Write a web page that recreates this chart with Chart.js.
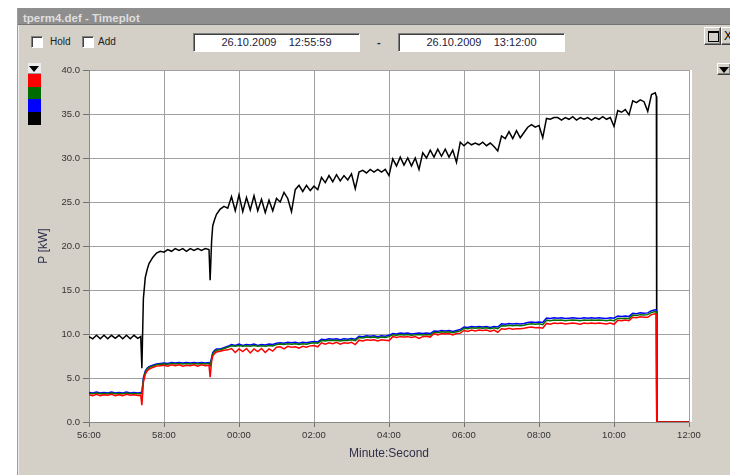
<!DOCTYPE html>
<html>
<head>
<meta charset="utf-8">
<title>tperm4.def - Timeplot</title>
<script src="https://cdn.jsdelivr.net/npm/chart.js@4/dist/chart.umd.min.js"></script>
<style>
  html, body { margin: 0; padding: 0; background: #fff; }
  body { width: 730px; height: 475px; position: relative; overflow: hidden;
         font-family: "Liberation Sans", Arial, sans-serif; }
  .abs { position: absolute; }
  #win { left: 17px; top: 8px; width: 713px; height: 467px; background: #d4d0c8;
         border-left: 1px solid #9c9c9c; box-shadow: inset 1px 0 0 #ececec; box-sizing: border-box; }
  #titlebar { left: 18px; top: 8px; width: 712px; height: 17px; background: #8e8e8e;
              border-bottom: 1px solid #747474; box-sizing: border-box; }
  #titletext { left: 23px; top: 13px; font: bold 11.5px/1 "Liberation Sans", Arial, sans-serif;
               color: #dedede; white-space: pre; }
  .chk { width: 12px; height: 12px; background: #fff; box-sizing: border-box;
         border: 1px solid; border-color: #808080 #ffffff #ffffff #808080;
         box-shadow: inset 1px 1px 0 #404040; }
  .lbl { font: 10px/1 "Liberation Sans", Arial, sans-serif; color: #202020; white-space: pre; }
  .datebox { top: 33px; height: 19px; background: #fff; box-sizing: border-box;
             border: 1px solid; border-color: #808080 #ffffff #ffffff #808080;
             box-shadow: inset 1px 1px 0 #404040; }
  .datetext { left: 0; right: 0; top: 3px; text-align: center;
              font: 11px/1 "Liberation Sans", Arial, sans-serif; color: #1e2240; white-space: pre; }
  .btn { background: #d4d0c8; box-sizing: border-box; border: 1px solid;
         border-color: #ffffff #404040 #404040 #ffffff; box-shadow: inset -1px -1px 0 #808080; }
  .tri { width: 0; height: 0; border-left: 5px solid transparent; border-right: 5px solid transparent;
         border-top: 6px solid #000; }
  .swatch { left: 28px; width: 13px; }
  #chart { position: absolute; left: 0; top: 0; }
</style>
</head>
<body>
<div id="win" class="abs"></div>
<div id="titlebar" class="abs"></div>
<div id="titletext" class="abs">tperm4.def - Timeplot</div>

<!-- toolbar row -->
<div class="abs chk" style="left:31px; top:36px;"></div>
<div class="abs lbl" style="left:50px; top:36.5px;">Hold</div>
<div class="abs chk" style="left:82px; top:36px;"></div>
<div class="abs lbl" style="left:98px; top:36.5px;">Add</div>

<div class="abs datebox" style="left:193px; width:167px;"><div class="abs datetext">26.10.2009    12:55:59</div></div>
<div class="abs" style="left:377px; top:36.5px; font:bold 11px/1 'Liberation Sans', Arial, sans-serif; color:#202020;">-</div>
<div class="abs datebox" style="left:398px; width:167px;"><div class="abs datetext">26.10.2009    13:12:00</div></div>

<!-- window buttons -->
<div class="abs btn" style="left:704px; top:27px; width:17px; height:18px;">
  <div class="abs" style="left:3px; top:3px; width:9px; height:8px; border:1px solid #000; border-top-width:2px;"></div>
</div>
<div class="abs btn" style="left:721px; top:27px; width:17px; height:18px;">
  <div class="abs" style="left:2px; top:2px; font:12px/1 'Liberation Sans', Arial, sans-serif; color:#000;">X</div>
</div>
<div class="abs btn" style="left:717px; top:63px; width:14px; height:12px;">
  <div class="abs tri" style="left:1px; top:3px;"></div>
</div>

<!-- series colour keys -->
<div class="abs" style="left:28px; top:63px; width:13px; height:11px; background:#ececec; border-bottom:1px solid #9a9a9a; box-sizing:border-box;">
  <div class="abs tri" style="left:1px; top:3px;"></div>
</div>
<div class="abs swatch" style="top:74px; height:13px; background:#ff0000;"></div>
<div class="abs swatch" style="top:87px; height:12px; background:#006c00;"></div>
<div class="abs swatch" style="top:99px; height:13px; background:#0000ff;"></div>
<div class="abs swatch" style="top:112px; height:13px; background:#000000;"></div>

<canvas id="chart" width="730" height="475"></canvas>

<script>
// Sample times in minutes after 12:56:00
const minutes = [
  0.0, 0.1, 0.2, 0.3, 0.4, 0.5, 0.6, 0.7, 0.8, 0.9, 1.0, 1.1, 1.2, 1.3, 1.38,
  1.41, 1.45, 1.5, 1.55, 1.6, 1.7, 1.8, 1.9, 2.0, 2.1, 2.2, 2.3, 2.4, 2.5, 2.6, 2.7, 2.8, 2.9, 3.0, 3.1, 3.2,
  3.23, 3.27, 3.3, 3.35, 3.4,
  3.5, 3.6, 3.7, 3.8, 3.9, 4.0, 4.1, 4.2, 4.3, 4.4,
  4.5, 4.6, 4.7, 4.8, 4.9, 5.0, 5.1, 5.2, 5.3, 5.4,
  5.5, 5.6, 5.7, 5.8, 5.9, 6.0, 6.1, 6.2, 6.3, 6.4,
  6.5, 6.6, 6.7, 6.8, 6.9, 7.0, 7.1, 7.2, 7.3, 7.4,
  7.5, 7.6, 7.7, 7.8, 7.9, 8.0, 8.1, 8.2, 8.3, 8.4,
  8.5, 8.6, 8.7, 8.8, 8.9, 9.0, 9.1, 9.2, 9.3, 9.4,
  9.5, 9.6, 9.7, 9.8, 9.9, 10.0, 10.1, 10.2, 10.3, 10.4,
  10.5, 10.6, 10.7, 10.8, 10.9, 11.0, 11.1, 11.2, 11.3, 11.4,
  11.5, 11.6, 11.7, 11.8, 11.9, 12.0, 12.1, 12.2, 12.3, 12.4,
  12.5, 12.6, 12.7, 12.8, 12.9, 13.0, 13.1, 13.2, 13.3, 13.4,
  13.5, 13.6, 13.7, 13.8, 13.9, 14.0, 14.1, 14.2, 14.3, 14.4,
  14.5, 14.6, 14.7, 14.8, 14.9, 15.0, 15.1,
  15.13, 15.14, 16.0
];

// Total power P [kW] (black)
const totalKW = [
  9.7, 9.45, 9.85, 9.45, 9.85, 9.45, 9.85, 9.5, 9.85, 9.45, 9.85, 9.45, 9.85, 9.5, 9.7,
  6.1, 14.0, 16.4, 17.3, 18.0, 18.7, 19.2, 19.4, 19.3, 19.6, 19.4, 19.7, 19.5, 19.7, 19.4, 19.7, 19.5, 19.7, 19.5, 19.7, 19.6,
  16.1, 20.6, 22.3, 23.0, 23.6,
  24.2, 24.5, 24.3, 25.6, 24.0, 25.8, 23.9, 25.5, 24.1, 25.7,
  24.0, 25.3, 23.8, 25.2, 24.0, 25.4, 25.0, 26.1, 25.4, 23.9,
  26.4, 26.9, 26.2, 26.9, 26.3, 26.8, 26.4, 27.8, 27.2, 28.0,
  27.3, 28.1, 27.4, 28.0, 27.5, 28.2, 26.5, 28.4, 28.6, 28.3,
  28.7, 28.4, 28.7, 28.4, 28.7, 28.0, 29.9, 29.1, 30.1, 29.2,
  30.0, 29.1, 30.0, 28.7, 30.6, 30.0, 30.9, 30.1, 31.0, 30.2,
  31.0, 30.1, 30.9, 29.5, 31.8, 31.4, 31.8, 31.5, 31.7, 31.5,
  31.8, 31.4, 31.7, 31.3, 30.8, 32.5, 32.2, 33.0, 32.2, 33.1,
  32.3, 32.9, 33.5, 33.8, 33.5, 33.7, 32.3, 34.5, 34.4, 34.6,
  34.6, 34.3, 34.6, 34.4, 34.7, 34.3, 34.6, 34.4, 34.6, 34.3,
  34.6, 34.4, 34.7, 34.4, 34.6, 33.6, 35.4, 35.2, 35.5, 34.9,
  36.5, 36.3, 36.6, 36.4, 35.3, 37.2, 37.4,
  37.0, 0, 0
];

// Phase powers P [kW]
const phase3KW = [ // blue
  3.35, 3.3, 3.4, 3.3, 3.35, 3.3, 3.4, 3.3, 3.35, 3.3, 3.4, 3.3, 3.35, 3.3, 3.35,
  3.3, 5.0, 5.8, 6.1, 6.3, 6.45, 6.6, 6.65, 6.7, 6.65, 6.75, 6.7, 6.75, 6.7, 6.75, 6.7, 6.75, 6.7, 6.75, 6.7, 6.75,
  6.5, 7.3, 7.9, 8.15, 8.3,
  8.3, 8.45, 8.6, 8.8, 8.7, 8.85, 8.7, 8.8, 8.75, 8.85,
  8.7, 8.8, 8.75, 8.85, 8.8, 8.95, 9.0, 8.95, 9.05, 9.0,
  9.05, 8.95, 9.05, 9.0, 9.1, 9.15, 9.1, 9.4, 9.35, 9.45,
  9.4, 9.45, 9.35, 9.45, 9.4, 9.5, 9.4, 9.75, 9.7, 9.8,
  9.75, 9.8, 9.7, 9.8, 9.75, 9.85, 10.05, 10.0, 10.1, 10.05,
  10.1, 10.0, 10.05, 10.1, 10.05, 10.1, 10.05, 10.35, 10.3, 10.4,
  10.35, 10.4, 10.3, 10.4, 10.5, 10.8, 10.75, 10.85, 10.8, 10.85,
  10.8, 10.85, 10.75, 10.85, 10.8, 11.15, 11.1, 11.2, 11.15, 11.2,
  11.15, 11.2, 11.3, 11.35, 11.3, 11.35, 11.3, 11.8, 11.75, 11.85,
  11.8, 11.85, 11.75, 11.8, 11.85, 11.8, 11.75, 11.85, 11.8, 11.85,
  11.8, 11.85, 11.8, 11.75, 11.85, 11.8, 12.05, 12.0, 12.05, 12.0,
  12.35, 12.3, 12.4, 12.35, 12.4, 12.65, 12.75,
  12.7, 0, 0
];

const phase2KW = [ // green
  3.25, 3.2, 3.3, 3.2, 3.25, 3.2, 3.3, 3.2, 3.25, 3.2, 3.3, 3.2, 3.25, 3.2, 3.25,
  3.2, 4.8, 5.65, 6.0, 6.2, 6.35, 6.5, 6.55, 6.6, 6.55, 6.65, 6.6, 6.65, 6.6, 6.65, 6.6, 6.65, 6.6, 6.65, 6.6, 6.65,
  6.4, 7.15, 7.75, 8.0, 8.15,
  8.2, 8.35, 8.5, 8.65, 8.6, 8.7, 8.6, 8.65, 8.6, 8.7,
  8.6, 8.65, 8.6, 8.7, 8.65, 8.8, 8.85, 8.8, 8.9, 8.85,
  8.9, 8.8, 8.9, 8.85, 8.95, 9.0, 8.95, 9.25, 9.2, 9.3,
  9.25, 9.3, 9.2, 9.3, 9.25, 9.35, 9.25, 9.6, 9.55, 9.65,
  9.6, 9.65, 9.55, 9.65, 9.6, 9.7, 9.9, 9.85, 9.95, 9.9,
  9.95, 9.85, 9.9, 9.95, 9.9, 9.95, 9.9, 10.2, 10.15, 10.25,
  10.2, 10.25, 10.15, 10.25, 10.35, 10.65, 10.6, 10.7, 10.65, 10.7,
  10.65, 10.7, 10.6, 10.7, 10.6, 10.95, 10.9, 11.0, 10.95, 11.0,
  10.95, 11.0, 11.1, 11.15, 11.1, 11.15, 11.05, 11.55, 11.5, 11.6,
  11.55, 11.6, 11.5, 11.55, 11.6, 11.55, 11.5, 11.6, 11.55, 11.6,
  11.55, 11.6, 11.55, 11.5, 11.6, 11.5, 11.8, 11.75, 11.8, 11.75,
  12.15, 12.1, 12.2, 12.15, 12.2, 12.45, 12.55,
  12.5, 0, 0
];

const phase1KW = [ // red
  3.1, 3.0, 3.15, 3.0, 3.1, 3.05, 3.15, 3.0, 3.1, 3.0, 3.15, 3.05, 3.1, 3.0, 3.05,
  1.9, 4.5, 5.4, 5.8, 6.0, 6.2, 6.35, 6.4, 6.45, 6.35, 6.5, 6.4, 6.5, 6.35, 6.45, 6.4, 6.5, 6.35, 6.5, 6.4, 6.45,
  5.1, 6.9, 7.5, 7.8, 7.95,
  8.05, 8.15, 8.2, 8.35, 7.9, 8.3, 8.0, 8.35, 7.85, 8.3,
  8.0, 8.35, 7.9, 8.3, 8.05, 8.5, 8.55, 8.3, 8.6, 8.5,
  8.55, 8.4, 8.6, 8.5, 8.65, 8.7, 8.55, 9.0, 8.85, 9.0,
  8.9, 9.05, 8.85, 9.0, 8.95, 9.05, 8.8, 9.3, 9.2, 9.35,
  9.3, 9.35, 9.2, 9.35, 9.3, 9.25, 9.7, 9.6, 9.7, 9.65,
  9.7, 9.6, 9.7, 9.5, 9.7, 9.75, 9.65, 10.05, 9.9, 10.05,
  10.0, 10.05, 9.9, 10.05, 10.1, 10.4, 10.3, 10.45, 10.35, 10.45,
  10.4, 10.45, 10.3, 10.45, 10.2, 10.6, 10.55, 10.65, 10.55, 10.6,
  10.6, 10.65, 10.75, 10.8, 10.7, 10.75, 10.65, 11.2, 11.1, 11.25,
  11.2, 11.25, 11.15, 11.2, 11.25, 11.2, 11.1, 11.25, 11.2, 11.25,
  11.2, 11.25, 11.2, 11.15, 11.25, 11.1, 11.55, 11.5, 11.6, 11.5,
  11.9, 11.85, 11.95, 11.9, 11.9, 12.2, 12.3,
  12.25, 0, 0
];

// Axis settings
const xMin = 0, xMax = 16, xStep = 2, startMinute = 56;
const yMin = 0, yMax = 40, yStep = 5;

const toPoints = vals => vals.map((v, i) => ({ x: minutes[i], y: v }));

// White plotting area behind the grid
const plotBackground = {
  id: 'plotBackground',
  beforeDraw(chart) {
    const { ctx, chartArea: a } = chart;
    ctx.save();
    ctx.fillStyle = '#ffffff';
    ctx.fillRect(a.left, a.top, a.right - a.left + 3, a.bottom - a.top);
    ctx.restore();
  }
};

const tickFont = { family: '"Liberation Sans", Arial, sans-serif', size: 9.5 };
const titleFont = { family: '"Liberation Sans", Arial, sans-serif', size: 12 };

const lineStyle = { borderWidth: 1.5, pointRadius: 0, tension: 0, fill: false };

new Chart(document.getElementById('chart'), {
  type: 'line',
  data: {
    datasets: [
      { label: 'L1', data: toPoints(phase1KW), borderColor: '#ff0000', ...lineStyle },
      { label: 'L2', data: toPoints(phase2KW), borderColor: '#007000', ...lineStyle },
      { label: 'L3', data: toPoints(phase3KW), borderColor: '#0000ff', ...lineStyle },
      { label: 'Total', data: toPoints(totalKW), borderColor: '#000000', ...lineStyle }
    ]
  },
  options: {
    responsive: false,
    animation: false,
    events: [],
    layout: { padding: { left: 0, top: 70, right: 41, bottom: 0 } },
    plugins: { legend: { display: false }, tooltip: { enabled: false } },
    scales: {
      x: {
        type: 'linear', min: xMin, max: xMax,
        afterFit(s) { s.height = 53; },
        ticks: {
          stepSize: xStep, autoSkip: false, maxRotation: 0, padding: 3,
          color: '#333333', font: tickFont,
          callback: v => String((startMinute + v) % 60).padStart(2, '0') + ':00'
        },
        grid: { color: '#a0a0a0', tickLength: 5, tickColor: '#707070' },
        border: { color: '#8a8a8a' },
        title: { display: true, text: 'Minute:Second', color: '#30304a', font: titleFont,
                 padding: { top: 0, bottom: 14 } }
      },
      y: {
        min: yMin, max: yMax,
        afterFit(s) { s.width = 89; },
        ticks: {
          stepSize: yStep, padding: 3, color: '#333333', font: tickFont,
          callback: v => v.toFixed(1)
        },
        grid: { color: '#a0a0a0', tickLength: 6, tickColor: '#707070' },
        border: { color: '#8a8a8a' },
        title: { display: true, text: 'P [kW]', color: '#30304a', font: titleFont,
                 padding: { top: 36, bottom: 0 } }
      }
    }
  },
  plugins: [plotBackground]
});
</script>
</body>
</html>
